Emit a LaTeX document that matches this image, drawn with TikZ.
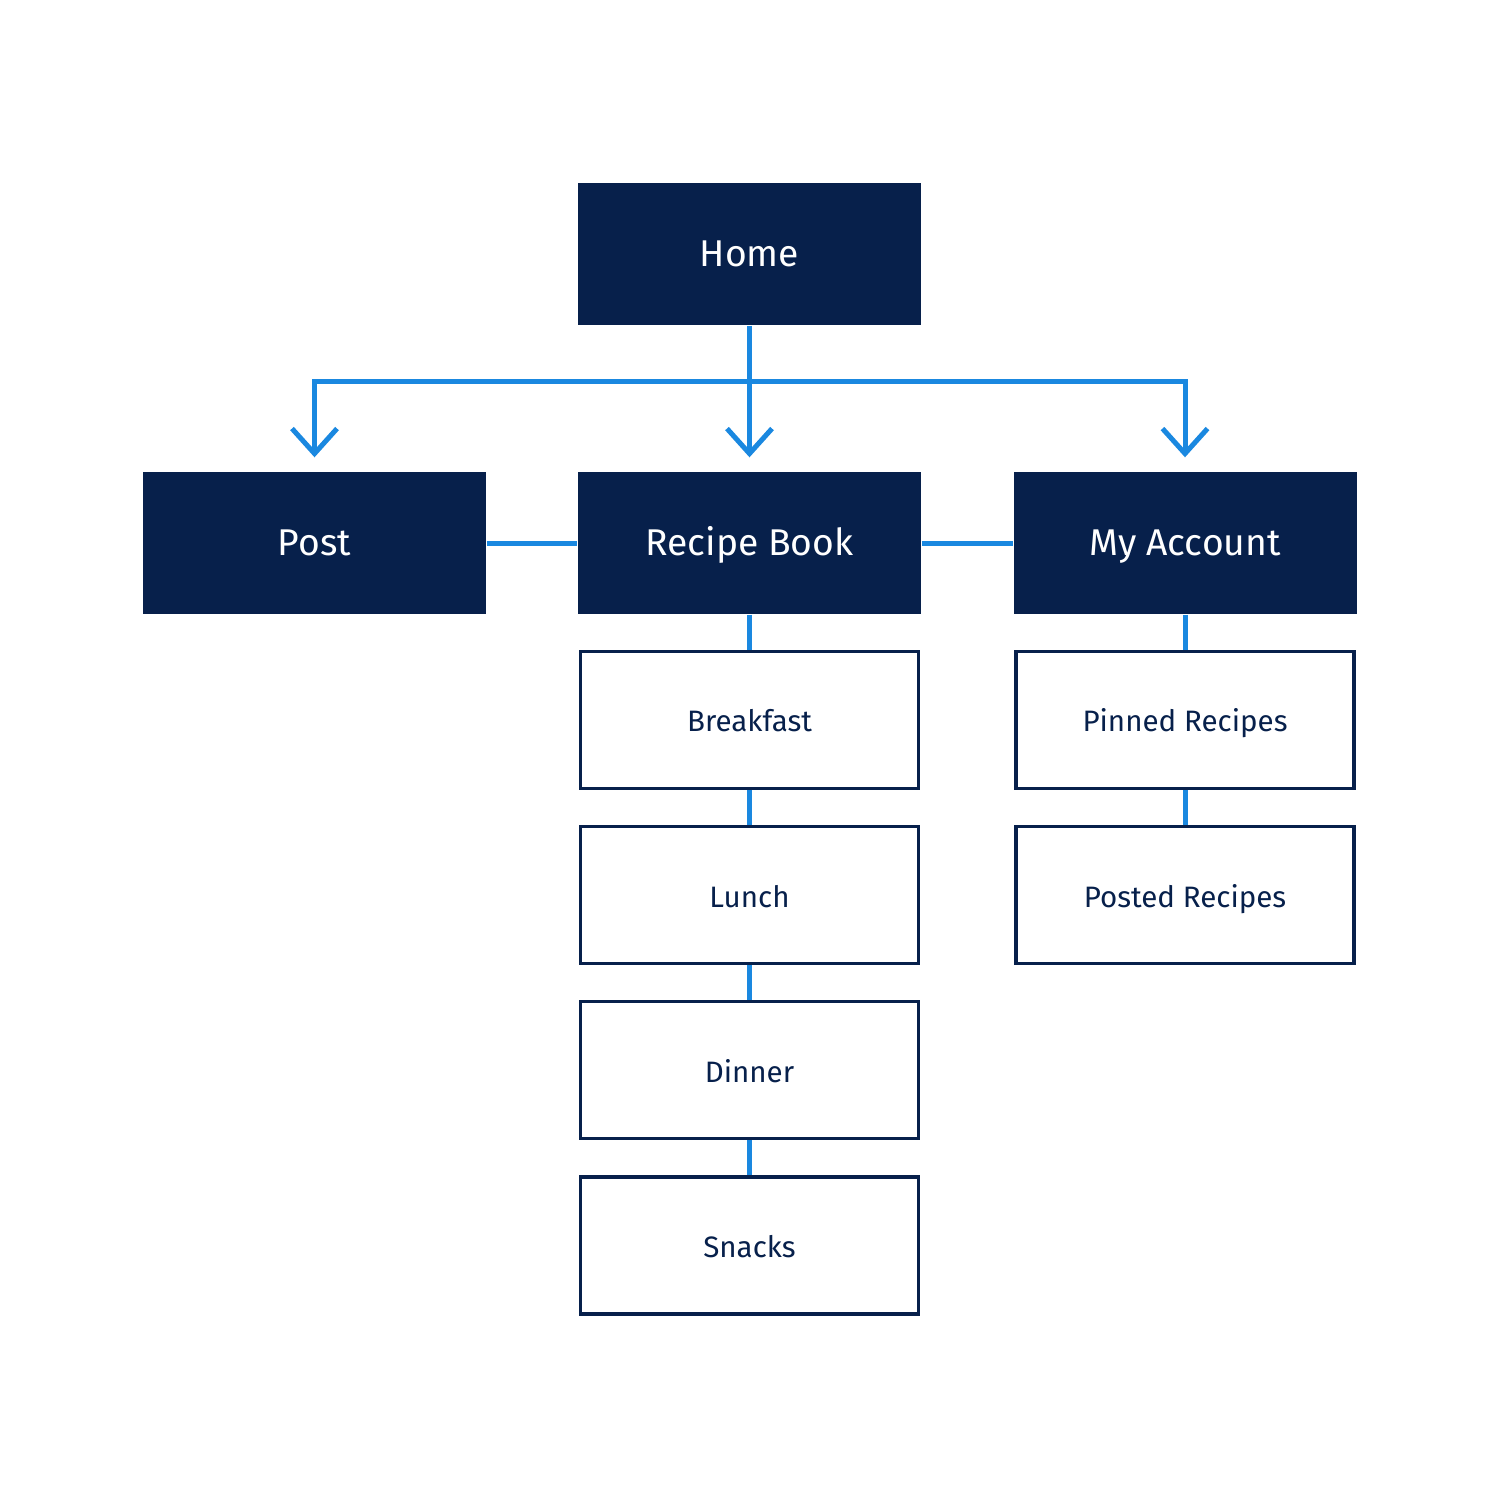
\documentclass[tikz,border=0pt]{standalone}
\usepackage{fontspec}
\setmainfont{Fira Sans}
\usetikzlibrary{arrows.meta,positioning}
\definecolor{navy}{HTML}{07204B}
\definecolor{linkblue}{HTML}{1A88E0}
\tikzset{
	page/.style={fill=navy,text=white,inner sep=0pt,text height=1.31ex,text depth=0pt,minimum width=34.3mm,minimum height=14.2mm,font=\fontsize{10.6}{12}\selectfont},
	subpage/.style={draw=navy,line width=0.32mm,fill=white,text=navy,inner sep=0pt,text height=1.31ex,text depth=0pt,minimum width=33.8mm,minimum height=13.7mm,font=\fontsize{8.4}{10}\selectfont},
	link/.style={draw=linkblue,line width=0.5mm},
	flow/.style={link,-{Straight Barb[length=2.5mm,width=4.5mm]},shorten >=1.4mm}
}

\begin{document}
\begin{tikzpicture}[x=0.1mm,y=-0.1mm,node distance=3.5mm]
		\useasboundingbox (0,0) rectangle (1500,1500);
		\node[page] (home) at (749.5,254) {Home};
		\node[page] (post) at (314.5,543) {Post};
		\node[page] (book) at (749.5,543) {Recipe Book};
		\node[page] (account) at (1185,543) {My Account};
		\node[subpage,below=of book] (breakfast) {Breakfast};
		\node[subpage,below=of breakfast] (lunch) {Lunch};
		\node[subpage,below=of lunch] (dinner) {Dinner};
		\node[subpage,below=of dinner] (snacks) {Snacks};
		\node[subpage,below=of account] (pinned) {Pinned Recipes};
		\node[subpage,below=of pinned] (posted) {Posted Recipes};
		\coordinate (split) at (749.5,381);
		\draw[flow] (home) -- (book);
		\draw[flow] (split) -| (post);
		\draw[flow] (split) -| (account);
		\draw[link] (post) -- (book);
		\draw[link] (book) -- (account);
		\foreach \a/\b in {book/breakfast,breakfast/lunch,lunch/dinner,dinner/snacks,account/pinned,pinned/posted}
			\draw[link] (\a) -- (\b);
	\end{tikzpicture}
\end{document}
